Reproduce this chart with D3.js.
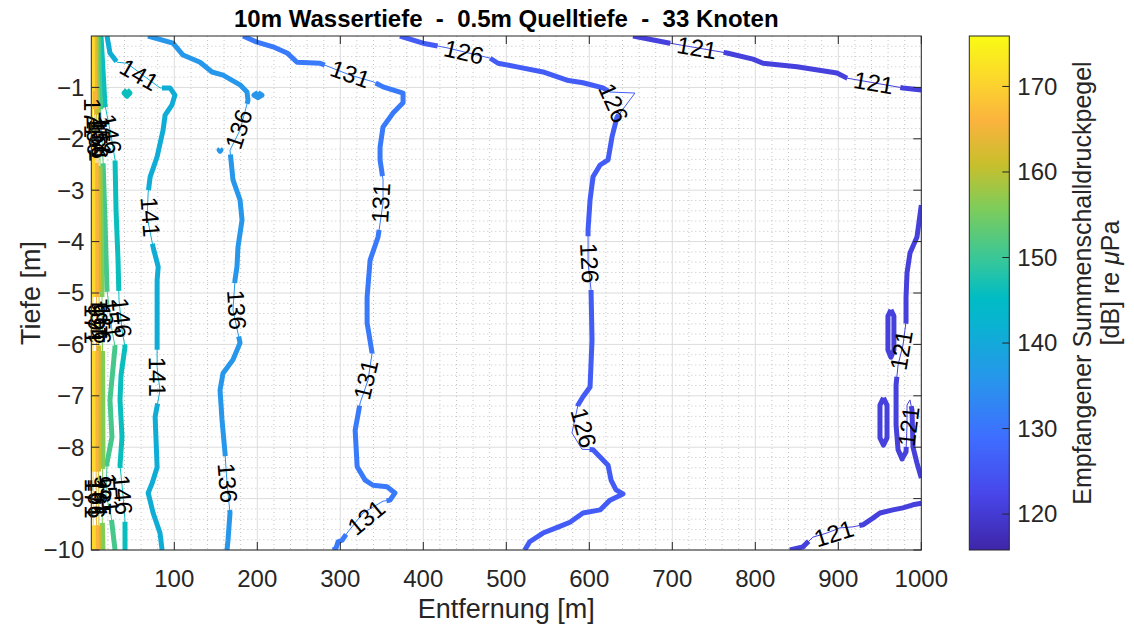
<!DOCTYPE html>
<html>
<head>
<meta charset="utf-8">
<script src="https://cdn.jsdelivr.net/npm/d3@7"></script>
<style>
  body { margin: 0; background: #fff; }
  text { font-family: "Liberation Sans", Arial, Helvetica, sans-serif; }
</style>
</head>
<body>
<div id="chart"></div>
<script>
// ---- data (x in m, depth in m, level in dB) ----
var xTicks = [100, 200, 300, 400, 500, 600, 700, 800, 900, 1000];
var yTicks = [-1, -2, -3, -4, -5, -6, -7, -8, -9, -10];
var cbTicks = [120, 130, 140, 150, 160, 170];
var levelRange = [115.8, 175.9];

// contour lines, one array per piece
var c121a = [[652.7,0],[697.2,-0.14],[765.9,-0.33],[797.2,-0.45],[809.3,-0.53],[850.2,-0.60],[898.4,-0.72],[910.5,-0.82],[978.0,-1.01],[1000,-1.05]];
var c121b = [[1000,-3.29],[994.8,-3.91],[986.4,-4.22],[982.8,-4.61],[981.6,-5.08],[981.6,-5.56],[978.0,-6.01],[972.0,-6.40],[969.6,-6.79],[969.6,-7.57],[972.0,-8.05],[976.8,-8.23],[981.6,-8.09],[982.8,-7.57],[982.8,-7.18],[986.4,-7.08],[988.8,-7.28],[990.0,-8.00],[994.8,-8.31],[1000,-8.60]];
var c121c = [[841.6,-10],[857.3,-9.94],[869.4,-9.75],[886.2,-9.67],[901.9,-9.57],[917.6,-9.55],[929.6,-9.51],[941.7,-9.38],[950.2,-9.28],[965.8,-9.22],[977.9,-9.18],[990.0,-9.12],[1000,-9.09]];
var c121d = [[963.4,-5.33],[967.0,-5.45],[967.0,-6.11],[963.4,-6.25],[959.8,-6.11],[959.8,-5.45],[963.4,-5.33]];
var c121e = [[954.4,-7.04],[958.7,-7.18],[958.7,-7.82],[954.4,-7.96],[950.2,-7.82],[950.2,-7.18],[954.4,-7.04]];
var c126 = [[371.9,0],[399.6,-0.14],[428.5,-0.23],[480.3,-0.43],[490.0,-0.53],[512.9,-0.60],[544.2,-0.70],[573.1,-0.86],[592.4,-0.91],[616.5,-1.01],[624.9,-1.09],[655.0,-1.11],[633.4,-1.58],[627.4,-1.96],[622.6,-2.41],[613.0,-2.51],[604.5,-2.74],[600.9,-3.19],[598.5,-3.77],[598.5,-4.42],[602.1,-4.94],[603.3,-5.91],[600.9,-6.83],[592.4,-7.02],[586.4,-7.18],[579.1,-7.72],[591.2,-8.04],[604.5,-8.05],[613.0,-8.19],[622.6,-8.35],[626.2,-8.64],[632.2,-8.83],[640.6,-8.91],[624.9,-9.03],[613.0,-9.22],[592.4,-9.28],[576.7,-9.46],[563.1,-9.55],[544.2,-9.67],[528.2,-9.84],[522.2,-10]];
var c131 = [[182.8,0],[199.6,-0.12],[218.9,-0.21],[235.8,-0.33],[247.9,-0.51],[275.6,-0.53],[311.7,-0.76],[339.4,-0.89],[351.5,-0.99],[375.6,-1.11],[375.6,-1.30],[363.5,-1.50],[351.5,-1.77],[347.9,-2.16],[347.9,-2.41],[351.5,-2.80],[351.5,-3.25],[345.5,-3.91],[335.9,-4.36],[332.3,-5.08],[332.3,-5.58],[338.3,-6.17],[333.5,-6.69],[323.9,-7.14],[317.9,-7.67],[320.3,-8.38],[329.9,-8.64],[339.4,-8.74],[356.3,-8.77],[365.9,-8.89],[359.9,-9.03],[351.5,-9.05],[327.3,-9.28],[308.1,-9.67],[302.1,-9.81],[297.3,-9.84],[294.9,-9.96],[291.3,-10]];
var c136 = [[68.3,0],[98.4,-0.14],[110.5,-0.37],[131.0,-0.51],[145.4,-0.70],[158.7,-0.76],[179.2,-0.95],[187.6,-1.09],[188.8,-1.25],[179.2,-1.83],[167.1,-2.22],[170.7,-2.80],[179.2,-3.19],[181.6,-3.58],[176.7,-4.11],[175.5,-4.49],[173.1,-4.75],[170.7,-5.33],[179.2,-5.97],[170.7,-6.30],[158.7,-6.56],[155.1,-6.89],[157.5,-7.47],[161.1,-8.11],[163.5,-8.70],[167.1,-9.28],[164.7,-9.81],[163.5,-10]];
var c136b = [[200.8,-1.10],[205.6,-1.15],[200.8,-1.20],[196.0,-1.15],[200.8,-1.10]];
var c136c = [[155.1,-2.20],[156.3,-2.22],[155.1,-2.24],[153.9,-2.22],[155.1,-2.20]];
var c141 = [[18.9,0],[22.5,-0.33],[31.0,-0.51],[43.0,-0.53],[58.6,-0.72],[82.8,-1.01],[94.8,-1.01],[100.8,-1.15],[97.2,-1.34],[88.9,-1.54],[86.5,-1.83],[79.3,-2.35],[70.9,-2.74],[68.5,-3.05],[67.3,-3.52],[74.5,-4.11],[80.6,-4.49],[79.3,-4.75],[79.3,-6.44],[80.6,-6.63],[82.8,-6.89],[76.9,-7.41],[79.3,-8.39],[73.3,-8.70],[68.5,-8.89],[74.5,-9.28],[82.8,-9.67],[85.3,-10]];
var c146 = [[11.7,0],[14.1,-0.66],[16.5,-1.34],[23.7,-1.93],[28.6,-2.41],[29.8,-3.39],[32.2,-4.36],[33.4,-5.14],[37.0,-5.72],[40.6,-6.05],[35.8,-6.60],[34.6,-7.08],[37.0,-7.80],[34.6,-8.35],[38.2,-8.93],[40.6,-9.42],[40.6,-10]];
var c146b = [[43.0,-1.05],[46.6,-1.11],[43.0,-1.17],[39.4,-1.11],[43.0,-1.05]];
var c151 = [[8.7,0],[9.9,-0.86],[11.7,-1.63],[14.1,-2.41],[16.5,-3.58],[18.9,-4.94],[24.9,-5.72],[28.6,-6.05],[22.5,-7.08],[24.9,-7.80],[18.9,-8.31],[17.7,-8.93],[23.7,-9.32],[28.6,-10]];
var c156 = [[6.3,0],[7.5,-1.25],[10.5,-2.41],[12.3,-4.16],[13.5,-6.11],[14.1,-8.05],[12.9,-9.22],[14.1,-10]];
var c161 = [[4.5,0],[5.7,-1.25],[8.1,-2.41],[9.3,-5.14],[8.7,-8.05],[9.3,-10]];
var c166 = [[2.9,0],[3.9,-1.25],[5.7,-2.41],[6.3,-5.14],[5.7,-8.05],[6.5,-10]];
var c171 = [[1.2,0],[1.8,-3.19],[2.0,-7.08],[2.4,-10]];

// where the level labels sit (x, depth)
var lab121a = [[729.4,-0.24],[941.9,-0.95]];
var lab121b = [[976.4,-6.11],[982.8,-7.47]];
var lab121c = [[894,-9.64]];
var lab126 = [[447.8,-0.37],[655.0,-1.11],[598.5,-4.42],[579.1,-7.72]];
var lab131 = [[311.7,-0.76],[351.5,-3.25],[333.5,-6.69],[327.3,-9.28]];
var lab136 = [[179.2,-1.83],[170.7,-5.33],[163.5,-8.70]];
var lab141 = [[58.6,-0.72],[67.3,-3.52],[80.6,-6.63]];
var lab146 = [[26.3,-1.89],[33.4,-5.49],[38.2,-8.93]];
var lab151 = [[12.5,-1.95],[22.0,-5.5],[18.0,-8.9]];
var lab156 = [[9.0,-2.0],[13.5,-5.6],[14.0,-8.95]];
var lab161 = [[6.5,-2.05],[9.3,-5.5],[8.7,-9.0]];
var lab166 = [[4.5,-1.95],[6.3,-5.6],[6.0,-9.0]];
var lab171 = [[1.5,-1.6],[1.9,-5.6],[2.2,-9.0]];

var contours = [
  { level: 121, pts: c121a, labels: lab121a },
  { level: 121, pts: c121b, labels: lab121b },
  { level: 121, pts: c121c, labels: lab121c },
  { level: 121, pts: c121d, labels: [] },
  { level: 121, pts: c121e, labels: [] },
  { level: 126, pts: c126, labels: lab126 },
  { level: 131, pts: c131, labels: lab131 },
  { level: 136, pts: c136, labels: lab136 },
  { level: 136, pts: c136b, labels: [] },
  { level: 136, pts: c136c, labels: [] },
  { level: 141, pts: c141, labels: lab141 },
  { level: 146, pts: c146, labels: lab146 },
  { level: 146, pts: c146b, labels: [] },
  { level: 151, pts: c151, labels: lab151 },
  { level: 156, pts: c156, labels: lab156 },
  { level: 161, pts: c161, labels: lab161 },
  { level: 166, pts: c166, labels: lab166 },
  { level: 171, pts: c171, labels: lab171 }
];

// parula-like colormap
var parulaStops = [[0,"#3e26a8"],[0.111,"#4847eb"],[0.222,"#3e6fff"],[0.333,"#2796eb"],[0.444,"#08b4d0"],[0.49,"#00bcc4"],[0.556,"#31c69f"],[0.667,"#80cc59"],[0.75,"#c8bf2c"],[0.835,"#fbb33e"],[0.9,"#fcd030"],[1,"#f9fb14"]];
var parula = d3.scaleLinear()
    .domain(parulaStops.map(d => d[0]))
    .range(parulaStops.map(d => d[1]))
    .interpolate(d3.interpolateRgb);
var color = v => parula((v - levelRange[0]) / (levelRange[1] - levelRange[0]));

var W = 1134, H = 630;
var plotL = 91.3, plotR = 921.3, plotT = 36, plotB = 550;
var axisCol = "#262626";

var svg = d3.select("#chart").append("svg")
    .attr("width", W)
    .attr("height", H)
    .style("background", "#fff");

var x = d3.scaleLinear().domain([0, 1000]).range([plotL, plotR]);
var y = d3.scaleLinear().domain([-10, 0]).range([plotB, plotT]);

// minor grid (dotted)
var xMinor = d3.range(1, 50).map(i => i * 20).filter(v => v % 100 !== 0);
var yMinor = d3.range(1, 50).filter(i => i % 5 !== 0).map(i => -10 + i * 0.2);
svg.append("g").selectAll("line").data(xMinor).enter().append("line")
    .attr("x1", d => x(d)).attr("x2", d => x(d))
    .attr("y1", plotT).attr("y2", plotB)
    .attr("stroke", "#c4c4c4").attr("stroke-width", 1).attr("stroke-dasharray", "1,3");
svg.append("g").selectAll("line").data(yMinor).enter().append("line")
    .attr("x1", plotL).attr("x2", plotR)
    .attr("y1", d => y(d)).attr("y2", d => y(d))
    .attr("stroke", "#c4c4c4").attr("stroke-width", 1).attr("stroke-dasharray", "1,3");

// major grid
svg.append("g").selectAll("line").data(xTicks).enter().append("line")
    .attr("x1", d => x(d)).attr("x2", d => x(d))
    .attr("y1", plotT).attr("y2", plotB)
    .attr("stroke", "#dcdcdc").attr("stroke-width", 1);
svg.append("g").selectAll("line").data(yTicks).enter().append("line")
    .attr("x1", plotL).attr("x2", plotR)
    .attr("y1", d => y(d)).attr("y2", d => y(d))
    .attr("stroke", "#dcdcdc").attr("stroke-width", 1);

// clip for the contour lines
svg.append("clipPath").attr("id", "plotclip")
    .append("rect")
    .attr("x", plotL).attr("y", plotT)
    .attr("width", plotR - plotL).attr("height", plotB - plotT);

var lineLayer = svg.append("g").attr("clip-path", "url(#plotclip)");
var labelLayer = svg.append("g");
var line = d3.line().x(d => x(d[0])).y(d => y(d[1]));

contours.forEach(function (c) {
    var col = color(c.level);
    var g = lineLayer.append("g");
    // thin line runs through the labels
    var thin = g.append("path")
        .attr("d", line(c.pts))
        .attr("fill", "none")
        .attr("stroke", col)
        .attr("stroke-width", 1);
    var node = thin.node(), total = node.getTotalLength();

    var gaps = [];
    c.labels.forEach(function (a) {
        var ax = x(a[0]), ay = y(a[1]);
        var best = 0, bd = Infinity;
        for (var s = 0; s <= total; s += 0.5) {
            var p = node.getPointAtLength(s);
            var dd = (p.x - ax) * (p.x - ax) + (p.y - ay) * (p.y - ay);
            if (dd < bd) { bd = dd; best = s; }
        }
        var t = labelLayer.append("text")
            .text(c.level)
            .attr("font-size", "24px")
            .attr("fill", "#000")
            .attr("text-anchor", "middle")
            .attr("dy", "0.35em");
        var w = t.node().getComputedTextLength() + 14;
        var s0 = Math.max(0, best - w / 2), s1 = Math.min(total, best + w / 2);
        var p0 = node.getPointAtLength(s0), p1 = node.getPointAtLength(s1);
        var ang = Math.atan2(p1.y - p0.y, p1.x - p0.x) * 180 / Math.PI;
        if (ang > 90) ang -= 180;
        if (ang <= -90) ang += 180;
        t.attr("transform", "translate(" + ((p0.x + p1.x) / 2) + "," + ((p0.y + p1.y) / 2) + ") rotate(" + ang + ")");
        gaps.push([s0, s1]);
    });

    gaps.sort((a, b) => a[0] - b[0]);
    var dash = [], pos = 0;
    gaps.forEach(function (gp) {
        var st = Math.max(pos, gp[0]);
        dash.push(st - pos, gp[1] - st);
        pos = gp[1];
    });
    dash.push(total - pos + 20, 20);

    g.append("path")
        .attr("d", line(c.pts))
        .attr("fill", "none")
        .attr("stroke", col)
        .attr("stroke-width", 5)
        .attr("stroke-linejoin", "round")
        .attr("stroke-dasharray", dash.join(","));
});

// axes box and inward ticks
svg.append("rect")
    .attr("x", plotL).attr("y", plotT)
    .attr("width", plotR - plotL).attr("height", plotB - plotT)
    .attr("fill", "none").attr("stroke", axisCol).attr("stroke-width", 1);

var tickLen = 8;
var ticks = svg.append("g").attr("stroke", axisCol).attr("stroke-width", 1);
xTicks.forEach(function (v) {
    ticks.append("line").attr("x1", x(v)).attr("x2", x(v)).attr("y1", plotB).attr("y2", plotB - tickLen);
    ticks.append("line").attr("x1", x(v)).attr("x2", x(v)).attr("y1", plotT).attr("y2", plotT + tickLen);
});
yTicks.forEach(function (v) {
    ticks.append("line").attr("x1", plotL).attr("x2", plotL + tickLen).attr("y1", y(v)).attr("y2", y(v));
    ticks.append("line").attr("x1", plotR).attr("x2", plotR - tickLen).attr("y1", y(v)).attr("y2", y(v));
});

svg.append("g").selectAll("text").data(xTicks).enter().append("text")
    .attr("x", d => x(d)).attr("y", 587)
    .attr("text-anchor", "middle")
    .attr("font-size", "24px").attr("fill", axisCol)
    .text(d => d);
svg.append("g").selectAll("text").data(yTicks).enter().append("text")
    .attr("x", plotL - 7).attr("y", d => y(d))
    .attr("dy", "0.35em")
    .attr("text-anchor", "end")
    .attr("font-size", "24px").attr("fill", axisCol)
    .text(d => "\u2212" + Math.abs(d));

// titles
svg.append("text")
    .attr("x", (plotL + plotR) / 2).attr("y", 27)
    .attr("text-anchor", "middle")
    .attr("font-size", "24px").attr("font-weight", "bold").attr("fill", "#000")
    .style("white-space", "pre")
    .text("10m Wassertiefe  -  0.5m Quelltiefe  -  33 Knoten");

svg.append("text")
    .attr("x", (plotL + plotR) / 2).attr("y", 618)
    .attr("text-anchor", "middle")
    .attr("font-size", "27px").attr("fill", axisCol)
    .text("Entfernung [m]");

svg.append("text")
    .attr("transform", "translate(40," + ((plotT + plotB) / 2) + ") rotate(-90)")
    .attr("text-anchor", "middle")
    .attr("font-size", "27px").attr("fill", axisCol)
    .text("Tiefe [m]");

// colorbar
var cbL = 969.3, cbW = 40;
var cy = d3.scaleLinear().domain(levelRange).range([plotB, plotT]);
var grad = svg.append("defs").append("linearGradient")
    .attr("id", "cbgrad")
    .attr("x1", 0).attr("y1", 1).attr("x2", 0).attr("y2", 0);
parulaStops.forEach(function (s) {
    grad.append("stop").attr("offset", s[0]).attr("stop-color", s[1]);
});
svg.append("rect")
    .attr("x", cbL).attr("y", plotT)
    .attr("width", cbW).attr("height", plotB - plotT)
    .attr("fill", "url(#cbgrad)")
    .attr("stroke", axisCol).attr("stroke-width", 1);
cbTicks.forEach(function (v) {
    svg.append("line")
        .attr("x1", cbL + cbW).attr("x2", cbL + cbW - 7)
        .attr("y1", cy(v)).attr("y2", cy(v))
        .attr("stroke", axisCol).attr("stroke-width", 1);
});
svg.append("g").selectAll("text").data(cbTicks).enter().append("text")
    .attr("x", cbL + cbW + 8).attr("y", d => cy(d))
    .attr("dy", "0.35em")
    .attr("font-size", "24px").attr("fill", axisCol)
    .text(d => d);

var cbLabel = svg.append("text")
    .attr("transform", "translate(1091," + ((plotT + plotB) / 2 - 10) + ") rotate(-90)")
    .attr("text-anchor", "middle")
    .attr("font-size", "25px").attr("fill", axisCol);
cbLabel.append("tspan").attr("x", 0).attr("dy", 0).text("Empfangener Summenschalldruckpegel");
var l2 = cbLabel.append("tspan").attr("x", 0).attr("dy", "1.1em");
l2.append("tspan").text("[dB] re ");
l2.append("tspan").attr("font-style", "italic").text("\u03bc");
l2.append("tspan").text("Pa");
</script>
</body>
</html>
